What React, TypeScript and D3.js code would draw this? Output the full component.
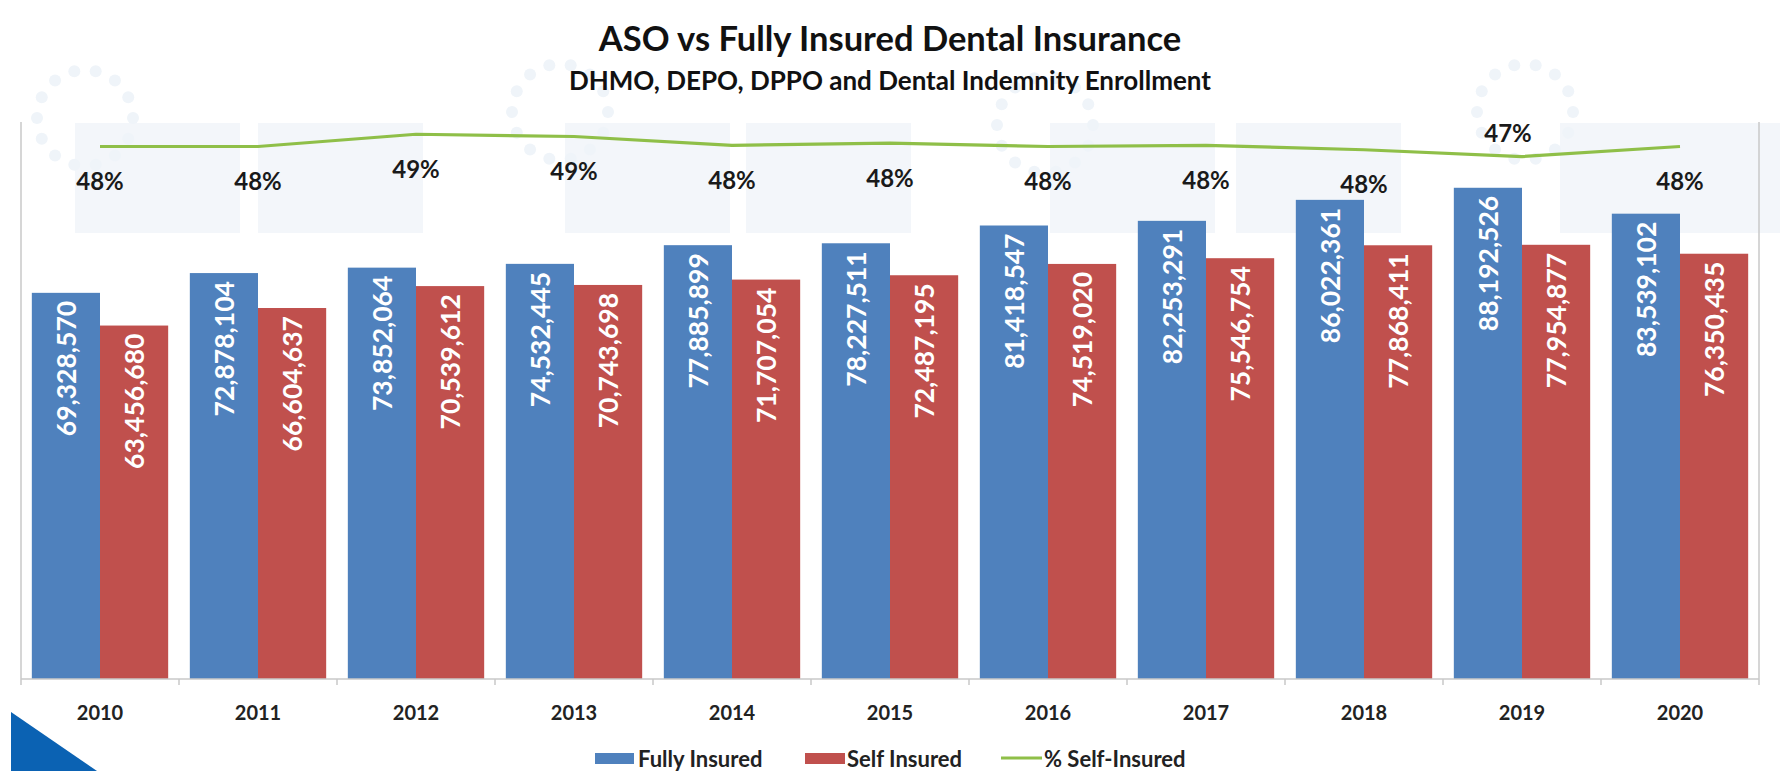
import React from 'react';
import * as d3 from 'd3';

const years = ['2010', '2011', '2012', '2013', '2014', '2015', '2016', '2017', '2018', '2019', '2020'];
const fullyInsured = [69328570, 72878104, 73852064, 74532445, 77885899, 78227511, 81418547, 82253291, 86022361, 88192526, 83539102];
const selfInsured = [63456680, 66604637, 70539612, 70743698, 71707054, 72487195, 74519020, 75546754, 77868411, 77954877, 76350435];
const pctSelfInsured = [0.478, 0.478, 0.489, 0.487, 0.479, 0.481, 0.478, 0.479, 0.4751, 0.469, 0.478];
const seriesNames = ['Fully Insured', 'Self Insured'];
const lineName = '% Self-Insured';
const title = 'ASO vs Fully Insured Dental Insurance';
const subtitle = 'DHMO, DEPO, DPPO and Dental Indemnity Enrollment';

const W = 1780;
const H = 771;
const plot = { left: 21, right: 1759, top: 122, bottom: 679 };
const BLUE = '#4F81BD';
const RED = '#C0504D';
const GREEN = '#8FBF48';
const FONT = 'Lato, "Open Sans", sans-serif';

export default function App() {
  const x = d3.scaleBand<string>().domain(years).range([plot.left, plot.right]).paddingInner(0.137).paddingOuter(0.0685);
  const xs = d3.scaleBand<string>().domain(seriesNames).range([0, x.bandwidth()]);
  const y = d3.scaleLinear().domain([0, 100000000]).range([plot.bottom, plot.top]);
  const y2 = d3.scaleLinear().domain([0, 0.5]).range([plot.bottom, plot.top]);
  const fmtNum = d3.format(',');
  const fmtPct = d3.format('.0%');
  const cx = (yr: string) => (x(yr) as number) + x.bandwidth() / 2;

  const line = d3.line<number>().x((_, i) => cx(years[i])).y((d) => y2(d));
  const step = x.step();
  const boundaries = d3.range(years.length + 1).map((i) => plot.left + i * step);

  const series = [
    { name: seriesNames[0], values: fullyInsured, color: BLUE },
    { name: seriesNames[1], values: selfInsured, color: RED },
  ];

  // faint watermark tiles
  const tiles = [75, 258, 565, 746, 1050, 1236, 1560, 1724];
  const dotRings = [[85, 118], [560, 112], [1045, 125], [1525, 112]];

  return (
    <svg width={W} height={H} style={{ position: 'absolute', left: 0, top: 0, background: '#fff' }} fontFamily={FONT}>
      <rect x={0} y={0} width={W} height={H} fill="#ffffff" />
      {/* watermark */}
      <g>
        {tiles.map((t, i) => (
          <rect key={i} x={t} y={123} width={165} height={110} fill="#f3f6fa" />
        ))}
        {dotRings.map(([rx, ry], i) => (
          <g key={i}>
            {d3.range(14).map((k) => {
              const a = (k / 14) * Math.PI * 2;
              return <circle key={k} cx={rx + Math.cos(a) * 48} cy={ry + Math.sin(a) * 48} r={6} fill="#eff4f9" />;
            })}
          </g>
        ))}
      </g>

      {/* title */}
      <text x={890} y={51} textAnchor="middle" fontSize={34.5} fontWeight={700} fill="#111">{title}</text>
      <text x={890} y={90} textAnchor="middle" fontSize={26} fontWeight={700} fill="#111">{subtitle}</text>

      {/* axis lines */}
      <line x1={plot.left} x2={plot.left} y1={plot.top} y2={plot.bottom} stroke="#c8c8c8" strokeWidth={1.5} />
      <line x1={plot.right} x2={plot.right} y1={plot.top} y2={plot.bottom} stroke="#c8c8c8" strokeWidth={1.5} />

      {/* bars */}
      {series.map((s) => (
        <g key={s.name}>
          {s.values.map((v, i) => {
            const bx = (x(years[i]) as number) + (xs(s.name) as number);
            const by = y(v);
            return (
              <g key={i}>
                <rect x={bx} y={by} width={xs.bandwidth()} height={plot.bottom - by} fill={s.color} />
                <text
                  transform={`translate(${bx + xs.bandwidth() / 2},${by + 8}) rotate(-90)`}
                  textAnchor="end"
                  dominantBaseline="central"
                  fontSize={26.5}
                  fontWeight={700}
                  fill="#ffffff"
                >
                  {fmtNum(v)}
                </text>
              </g>
            );
          })}
        </g>
      ))}

      {/* x axis */}
      <line x1={plot.left} x2={plot.right} y1={plot.bottom} y2={plot.bottom} stroke="#c8c8c8" strokeWidth={1.5} />
      {boundaries.map((b, i) => (
        <line key={i} x1={b} x2={b} y1={plot.bottom} y2={plot.bottom + 6} stroke="#c8c8c8" strokeWidth={1.5} />
      ))}
      {years.map((yr) => (
        <text key={yr} x={cx(yr)} y={712} textAnchor="middle" dominantBaseline="central" fontSize={20} fontWeight={700} fill="#222">
          {yr}
        </text>
      ))}

      {/* line */}
      <path d={line(pctSelfInsured) as string} fill="none" stroke={GREEN} strokeWidth={3.2} strokeLinejoin="round" />
      {pctSelfInsured.map((p, i) => {
        const above = years[i] === '2019';
        return (
          <text
            key={i}
            x={cx(years[i]) + (above ? -14 : 0)}
            y={y2(p) + (above ? -24 : 34)}
            textAnchor="middle"
            dominantBaseline="central"
            fontSize={24}
            fontWeight={700}
            fill="#1a1a1a"
          >
            {fmtPct(p)}
          </text>
        );
      })}

      {/* legend */}
      <g fontSize={22} fontWeight={700} fill="#222">
        <rect x={595} y={753} width={39} height={11} fill={BLUE} />
        <text x={638} y={758} dominantBaseline="central">{seriesNames[0]}</text>
        <rect x={805} y={753} width={40} height={11} fill={RED} />
        <text x={847} y={758} dominantBaseline="central">{seriesNames[1]}</text>
        <line x1={1001} x2={1042} y1={758} y2={758} stroke={GREEN} strokeWidth={3.2} />
        <text x={1044} y={758} dominantBaseline="central">{lineName}</text>
      </g>

      {/* corner triangle */}
      <path d="M11,712 L97,771 L11,771 Z" fill="#0B62B3" />
    </svg>
  );
}
